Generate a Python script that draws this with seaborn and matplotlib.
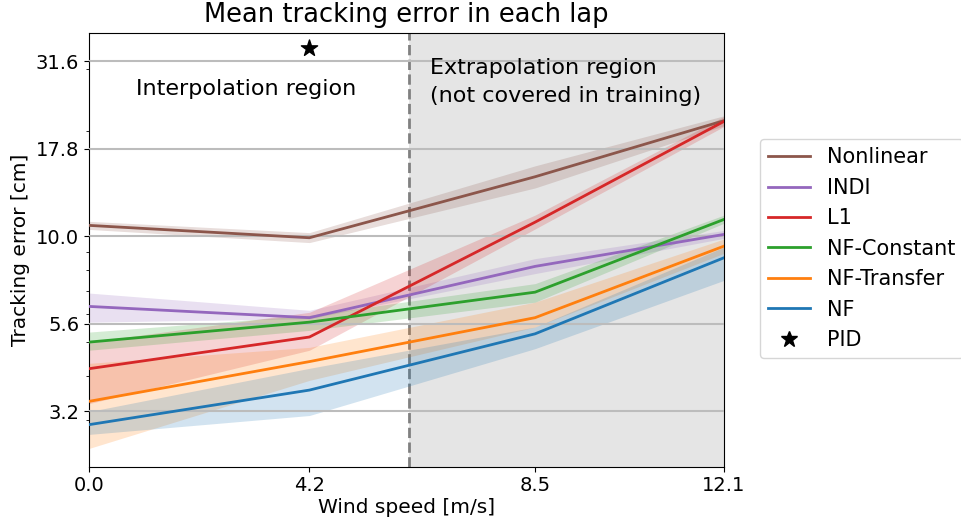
import numpy as np
import pandas as pd
import seaborn as sns
import matplotlib.pyplot as plt
from matplotlib.lines import Line2D
from matplotlib.ticker import NullFormatter

# wind speeds of the four laps
wind = [0.0, 4.2, 8.5, 12.1]

methods = ['Nonlinear', 'INDI', 'L1', 'NF-Constant', 'NF-Transfer', 'NF']
colors = ['tab:brown', 'tab:purple', 'tab:red', 'tab:green', 'tab:orange', 'tab:blue']

# mean tracking error [cm]
nonlinear = [10.75, 9.91, 14.8, 21.4]
indi = [6.31, 5.86, 8.21, 10.13]
l1 = [4.19, 5.16, 10.98, 21.3]
nf_constant = [4.99, 5.69, 6.93, 11.18]
nf_transfer = [3.38, 4.39, 5.86, 9.38]
nf = [2.90, 3.64, 5.27, 8.69]

# band limits
nonlinear_lo = [10.47, 9.60, 13.75, 20.7]
nonlinear_hi = [11.04, 10.25, 15.9, 22.1]
indi_lo = [5.69, 5.82, 7.83, 9.87]
indi_hi = [6.89, 6.15, 8.64, 10.4]
l1_lo = [3.33, 4.73, 10.5, 20.6]
l1_hi = [4.99, 6.07, 11.5, 22.0]
nf_constant_lo = [4.73, 5.39, 6.49, 10.9]
nf_constant_hi = [5.33, 5.95, 7.33, 11.5]
nf_transfer_lo = [2.48, 3.88, 5.51, 8.95]
nf_transfer_hi = [4.34, 4.82, 6.49, 9.83]
nf_lo = [2.72, 3.08, 4.78, 7.49]
nf_hi = [3.16, 4.20, 5.51, 9.32]

pid_wind = [4.2]
pid_err = [34.4]

means = [nonlinear, indi, l1, nf_constant, nf_transfer, nf]
lows = [nonlinear_lo, indi_lo, l1_lo, nf_constant_lo, nf_transfer_lo, nf_lo]
highs = [nonlinear_hi, indi_hi, l1_hi, nf_constant_hi, nf_transfer_hi, nf_hi]

rows = []
for m, vals in zip(methods, means):
  for w, v in zip(wind, vals):
    rows.append({'wind': w, 'err': v, 'method': m})
df = pd.DataFrame(rows)

boundary = 6.1
yticks = 10 ** np.array([0.5, 0.75, 1.0, 1.25, 1.5])

fig = plt.figure(figsize=(9.61, 5.29), dpi=100)
ax = fig.add_axes([0.0926, 0.1178, 0.6608, 0.8192])

ax.axvspan(boundary, 12.1, color='#e5e5e5', zorder=0, lw=0)
ax.axvline(boundary, color='gray', ls='--', lw=2, zorder=1)

palette = dict(zip(methods, colors))
sns.lineplot(data=df, x='wind', y='err', hue='method', hue_order=methods,
             palette=palette, errorbar=None, lw=2, ax=ax, legend=False, zorder=3)
for lo, hi, c in zip(lows, highs, colors):
  ax.fill_between(wind, lo, hi, color=c, alpha=0.2, lw=0, zorder=2)

ax.scatter(pid_wind, pid_err, marker='*', s=150, color='black', zorder=4)

ax.set_yscale('log')
ax.set_ylim(2.2, 38)
ax.set_yticks(yticks)
ax.set_yticklabels([f'{t:.1f}' for t in yticks])
ax.yaxis.set_minor_formatter(NullFormatter())
ax.set_xlim(0, 12.1)
ax.set_xticks(wind)
ax.set_xticklabels([f'{w:.1f}' for w in wind])
ax.yaxis.grid(True, which='major', color='#bcbcbc', lw=1.5, zorder=1)
ax.set_axisbelow(False)
ax.tick_params(labelsize=14)

ax.set_xlabel('Wind speed [m/s]', fontsize=14.5, labelpad=2)
ax.set_ylabel('Tracking error [cm]', fontsize=14.5)
ax.set_title('Mean tracking error in each lap', fontsize=18.5, pad=8)

ax.text(3.0, 26.3, 'Interpolation region', ha='center', va='center', fontsize=16)
ax.text(6.5, 27.6, 'Extrapolation region\n(not covered in training)',
        ha='left', va='center', fontsize=16, linespacing=1.45)

handles = [Line2D([], [], color=c, lw=2) for c in colors]
handles.append(Line2D([], [], color='black', marker='*', ls='', markersize=12))
fig.legend(handles, methods + ['PID'], loc='upper left', bbox_to_anchor=(0.791, 0.737),
           borderaxespad=0, fontsize=15, labelspacing=0.5)

fig.savefig('out.png', dpi=100)
